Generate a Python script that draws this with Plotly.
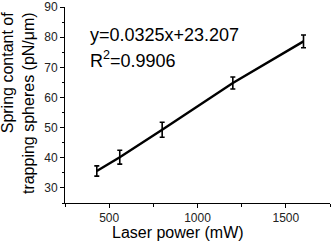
import plotly.graph_objects as go

laser_power = [430, 560, 800, 1200, 1600]
spring_constant = [35.6, 40.2, 49.3, 64.8, 78.6]
errors = [1.7, 2.3, 2.5, 2.0, 2.1]
fit_text = ["y=0.0325x+23.207", "R<sup>2</sup>=0.9906"]
x_title = "Laser power (mW)"
y_title = "Spring contant of<br>trapping spheres (pN/μm)"

fig = go.Figure()
fig.add_trace(go.Scatter(
    x=laser_power, y=spring_constant, mode="lines",
    line=dict(color="black", width=2.4),
    error_y=dict(type="data", array=errors, visible=True, color="black", thickness=1.6, width=2.5),
    showlegend=False,
))

font_main = "Liberation Sans, Arial"
fig.add_annotation(x=0.085, y=0.855, xref="paper", yref="paper", text=fit_text[0],
                   showarrow=False, xanchor="left", yanchor="middle",
                   font=dict(size=18, color="black", family=font_main))
fig.add_annotation(x=0.085, y=0.73, xref="paper", yref="paper", text=fit_text[1],
                   showarrow=False, xanchor="left", yanchor="middle",
                   font=dict(size=18, color="black", family=font_main))
fig.add_annotation(x=0.426, y=-0.153, xref="paper", yref="paper", text=x_title,
                   showarrow=False, xanchor="center", yanchor="middle",
                   font=dict(size=16, color="black", family=font_main))
fig.add_annotation(x=-0.175, y=0.508, xref="paper", yref="paper", text=y_title,
                   showarrow=False, xanchor="center", yanchor="middle", textangle=-90,
                   align="right",
                   font=dict(size=16, color="black", family=font_main))

axis_common = dict(showline=True, linecolor="black", linewidth=1, ticks="outside",
                   ticklen=4, tickwidth=1, tickcolor="black", showgrid=False, zeroline=False,
                   tickfont=dict(size=12, color="#222"),
                   minor=dict(ticks="outside", ticklen=2.5, tickcolor="black", tickwidth=1))

fig.update_xaxes(range=[250, 1750], tick0=500, dtick=500, **axis_common)
fig.update_yaxes(range=[25, 90], tick0=30, dtick=10, **axis_common)
fig.update_xaxes(minor=dict(dtick=250, tick0=250))
fig.update_yaxes(minor=dict(dtick=5, tick0=25))

fig.update_layout(
    width=333, height=243,
    margin=dict(l=65, r=3, t=7, b=40, autoexpand=False),
    plot_bgcolor="white", paper_bgcolor="white",
    font=dict(family=font_main, color="black"),
)

fig.write_html("out.html", config={"displayModeBar": False},
               post_script="document.body.style.margin='0';document.body.style.overflow='hidden';")
